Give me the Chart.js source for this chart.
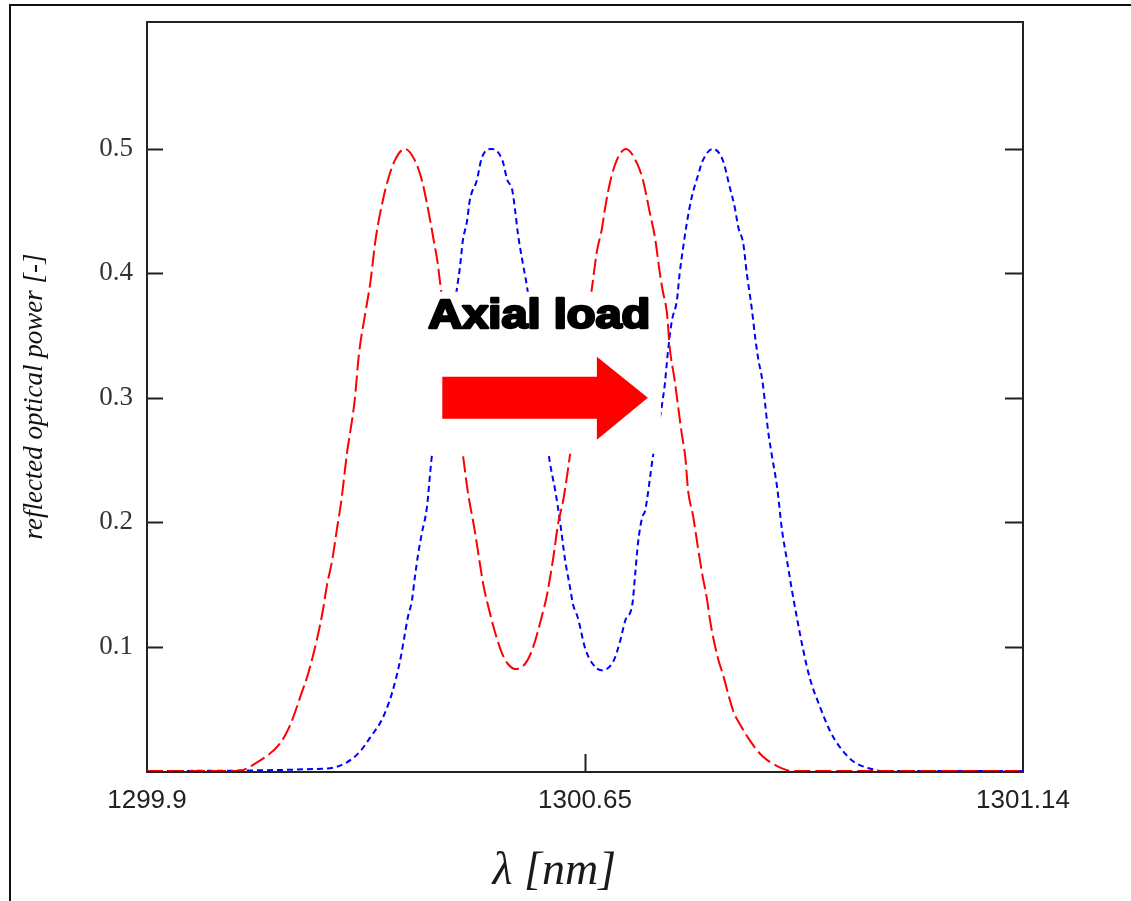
<!DOCTYPE html>
<html>
<head>
<meta charset="utf-8">
<title>Reflected optical power</title>
<script src="https://cdn.jsdelivr.net/npm/chart.js@4.4.1/dist/chart.umd.min.js"></script>
<style>
  html, body { margin: 0; padding: 0; background: #fff; }
  #wrap { width: 1131px; height: 901px; }
</style>
</head>
<body>
<div id="wrap"><canvas id="spectrumChart" width="1131" height="901"></canvas></div>
<script>
// tick labels as printed on the plot (Mathcad style: min, middle, max)
const xTickLabels = ['1299.9', '1300.65', '1301.14'];
const yTickValues = [0.1, 0.2, 0.3, 0.4, 0.5];

// unloaded grating (red, dashed)
const redWavelength = [1299.900, 1300.029, 1300.053, 1300.088, 1300.102, 1300.119, 1300.128, 1300.141, 1300.148, 1300.155,
  1300.162, 1300.169, 1300.175, 1300.183, 1300.194, 1300.200, 1300.209, 1300.216, 1300.224, 1300.234,
  1300.241, 1300.251, 1300.265, 1300.279, 1300.289, 1300.296, 1300.301, 1300.306, 1300.311, 1300.315,
  1300.347, 1300.354, 1300.364, 1300.376, 1300.381, 1300.395, 1300.403, 1300.411, 1300.421, 1300.435,
  1300.445, 1300.461, 1300.466, 1300.475, 1300.482, 1300.489, 1300.499, 1300.530, 1300.537, 1300.544,
  1300.548, 1300.555, 1300.565, 1300.578, 1300.594, 1300.602, 1300.612, 1300.619, 1300.626, 1300.630,
  1300.636, 1300.640, 1300.647, 1300.652, 1300.657, 1300.662, 1300.666, 1300.673, 1300.680, 1300.686,
  1300.693, 1300.697, 1300.708, 1300.715, 1300.730, 1300.742, 1300.754, 1300.771, 1300.792, 1300.814,
  1301.140];
const redPower = [0, 0, 0.006, 0.022, 0.036, 0.063, 0.078, 0.107, 0.126, 0.150,
  0.169, 0.195, 0.217, 0.255, 0.298, 0.335, 0.368, 0.392, 0.429, 0.459,
  0.475, 0.491, 0.500, 0.491, 0.475, 0.457, 0.442, 0.426, 0.410, 0.392,
  0.255, 0.225, 0.193, 0.150, 0.137, 0.107, 0.094, 0.086, 0.082, 0.086,
  0.097, 0.129, 0.141, 0.171, 0.199, 0.217, 0.255, 0.389, 0.418, 0.436,
  0.451, 0.472, 0.491, 0.500, 0.488, 0.475, 0.448, 0.429, 0.400, 0.386,
  0.368, 0.340, 0.314, 0.292, 0.271, 0.252, 0.225, 0.205, 0.179, 0.158,
  0.137, 0.121, 0.091, 0.078, 0.048, 0.035, 0.024, 0.012, 0.004, 0,
  0];

// grating under axial load (blue, dotted)
const blueWavelength = [1299.900, 1300.155, 1300.183, 1300.202, 1300.216, 1300.234, 1300.247, 1300.258, 1300.265, 1300.269,
  1300.275, 1300.279, 1300.284, 1300.289, 1300.296, 1300.303, 1300.339, 1300.343, 1300.347, 1300.353,
  1300.357, 1300.367, 1300.374, 1300.388, 1300.403, 1300.410, 1300.417, 1300.421, 1300.425, 1300.432,
  1300.438, 1300.470, 1300.478, 1300.485, 1300.492, 1300.499, 1300.503, 1300.510, 1300.520, 1300.531,
  1300.543, 1300.560, 1300.570, 1300.577, 1300.587, 1300.591, 1300.595, 1300.601, 1300.605, 1300.616,
  1300.633, 1300.637, 1300.643, 1300.650, 1300.654, 1300.659, 1300.664, 1300.671, 1300.679, 1300.687,
  1300.701, 1300.715, 1300.725, 1300.732, 1300.737, 1300.744, 1300.749, 1300.756, 1300.761, 1300.765,
  1300.771, 1300.775, 1300.779, 1300.785, 1300.792, 1300.799, 1300.806, 1300.813, 1300.820, 1300.829,
  1300.838, 1300.853, 1300.867, 1300.881, 1300.899, 1300.923, 1300.942, 1301.140];
const bluePower = [0, 0.002, 0.007, 0.016, 0.027, 0.043, 0.063, 0.088, 0.110, 0.123,
  0.137, 0.155, 0.175, 0.191, 0.211, 0.252, 0.389, 0.405, 0.426, 0.442,
  0.459, 0.475, 0.493, 0.500, 0.491, 0.475, 0.467, 0.451, 0.432, 0.408,
  0.389, 0.249, 0.225, 0.199, 0.169, 0.147, 0.134, 0.123, 0.099, 0.086,
  0.081, 0.088, 0.105, 0.121, 0.134, 0.158, 0.183, 0.204, 0.209, 0.252,
  0.311, 0.335, 0.362, 0.378, 0.400, 0.421, 0.440, 0.461, 0.477, 0.491,
  0.500, 0.491, 0.469, 0.453, 0.437, 0.424, 0.400, 0.372, 0.348, 0.332,
  0.314, 0.295, 0.274, 0.252, 0.228, 0.193, 0.169, 0.145, 0.123, 0.097,
  0.075, 0.051, 0.032, 0.019, 0.008, 0.002, 0, 0];

const toPoints = (xs, ys) => xs.map((x, i) => ({ x: x, y: ys[i] }));

// "Axial load" arrow, given in data coordinates (tail and tip at the same power level)
const arrowTail = { x: 1300.318, y: 0.30 };
const arrowTip = { x: 1300.609, y: 0.30 };

const decorPlugin = {
  id: 'decor',
  beforeDraw(chart) {
    const { ctx, width, height } = chart;
    ctx.save();
    ctx.fillStyle = '#fff';
    ctx.fillRect(0, 0, width, height);
    // outer picture border (top + left only)
    ctx.strokeStyle = '#111';
    ctx.lineWidth = 2;
    ctx.beginPath();
    ctx.moveTo(10, height);
    ctx.lineTo(10, 5);
    ctx.lineTo(width, 5);
    ctx.stroke();
    ctx.restore();
  },
  beforeDatasetsDraw(chart) {
    const { ctx, chartArea: a, scales } = chart;
    ctx.save();
    ctx.strokeStyle = '#222';
    ctx.lineWidth = 2;
    ctx.strokeRect(a.left, a.top, a.right - a.left, a.bottom - a.top + 1);
    // inward tick marks on both vertical sides
    ctx.beginPath();
    scales.y.ticks.forEach(t => {
      const py = Math.round(scales.y.getPixelForValue(t.value)) + 0.5;
      ctx.moveTo(a.left, py); ctx.lineTo(a.left + 16, py);
      ctx.moveTo(a.right, py); ctx.lineTo(a.right - 18, py);
    });
    // middle x tick
    const mid = scales.x.ticks[1];
    const px = Math.round(scales.x.getPixelForValue(mid.value)) + 0.5;
    ctx.moveTo(px, a.bottom); ctx.lineTo(px, a.bottom - 17);
    ctx.stroke();
    ctx.restore();
  },
  afterDatasetsDraw(chart) {
    const { ctx, chartArea: a, scales } = chart;
    const tailX = scales.x.getPixelForValue(arrowTail.x);
    const tipX = scales.x.getPixelForValue(arrowTip.x);
    const cy = scales.y.getPixelForValue(arrowTail.y);
    ctx.save();
    // white label box that hides the curves behind it
    ctx.fillStyle = '#fff';
    ctx.fillRect(tailX - 17, cy - 106, (tipX + 13) - (tailX - 17), 162);
    // arrow
    const headBase = tipX - 51;
    ctx.fillStyle = '#ff0000';
    ctx.beginPath();
    ctx.moveTo(tailX, cy - 21);
    ctx.lineTo(headBase, cy - 21);
    ctx.lineTo(headBase, cy - 41);
    ctx.lineTo(tipX, cy);
    ctx.lineTo(headBase, cy + 42);
    ctx.lineTo(headBase, cy + 21);
    ctx.lineTo(tailX, cy + 21);
    ctx.closePath();
    ctx.fill();
    // label, stretched to the width it has in the picture
    const label = 'Axial load';
    ctx.font = 'bold 40px "Liberation Sans", Arial, sans-serif';
    const w = ctx.measureText(label).width;
    ctx.translate(tailX - 14, cy - 70);
    ctx.scale(222 / w, 1);
    ctx.fillStyle = '#000';
    ctx.strokeStyle = '#000';
    ctx.lineWidth = 2.5;
    ctx.lineJoin = 'round';
    ctx.textBaseline = 'alphabetic';
    ctx.fillText(label, 0, 0);
    ctx.strokeText(label, 0, 0);
    ctx.restore();

    // x axis title
    ctx.save();
    ctx.fillStyle = '#1a1a1a';
    ctx.font = 'italic 46px "Liberation Serif", "Times New Roman", serif';
    ctx.textAlign = 'center';
    ctx.textBaseline = 'alphabetic';
    ctx.fillText('\u03bb [nm]', a.left + (a.right - a.left) * 0.465, 884);
    ctx.restore();
  }
};

const ctx = document.getElementById('spectrumChart').getContext('2d');
const spectrumChart = new Chart(ctx, {
  type: 'line',
  data: {
    datasets: [{
      label: 'unloaded',
      data: toPoints(redWavelength, redPower),
      borderColor: '#ff0000',
      borderWidth: 2,
      borderDash: [16, 5],
      pointRadius: 0,
      cubicInterpolationMode: 'monotone',
      fill: false
    }, {
      label: 'axial load',
      data: toPoints(blueWavelength, bluePower),
      borderColor: '#0000ff',
      borderWidth: 2,
      borderDash: [6, 4],
      pointRadius: 0,
      cubicInterpolationMode: 'monotone',
      fill: false
    }]
  },
  options: {
    responsive: false,
    animation: false,
    layout: { padding: { left: 10, right: 108, top: 22, bottom: 0 } },
    plugins: {
      legend: { display: false },
      tooltip: { enabled: false }
    },
    scales: {
      x: {
        type: 'linear',
        min: 1299.9,
        max: 1301.14,
        afterBuildTicks: (s) => {
          s.ticks = xTickLabels.map((_, i) => ({ value: s.min + (s.max - s.min) * i / (xTickLabels.length - 1) }));
        },
        afterFit: (s) => { s.height = 130; },
        grid: { display: false, drawTicks: false },
        border: { display: false },
        ticks: {
          autoSkip: false,
          maxRotation: 0,
          padding: 14,
          color: '#222',
          font: { family: 'Liberation Sans', size: 26 },
          callback: (v, i) => xTickLabels[i]
        }
      },
      y: {
        min: 0,
        max: 0.602,
        afterBuildTicks: (s) => { s.ticks = yTickValues.map(v => ({ value: v })); },
        afterFit: (s) => { s.width = 137; s.paddingTop = 0; s.paddingBottom = 0; },
        grid: { display: false, drawTicks: false },
        border: { display: false },
        title: {
          display: true,
          text: 'reflected optical power [-]',
          color: '#111',
          font: { family: 'Liberation Serif', style: 'italic', size: 27 },
          padding: { top: 9, bottom: 0 }
        },
        ticks: {
          padding: 14,
          color: '#333',
          font: { family: 'Liberation Serif', size: 27 },
          callback: (v) => v.toFixed(1)
        }
      }
    }
  },
  plugins: [decorPlugin]
});
</script>
</body>
</html>
